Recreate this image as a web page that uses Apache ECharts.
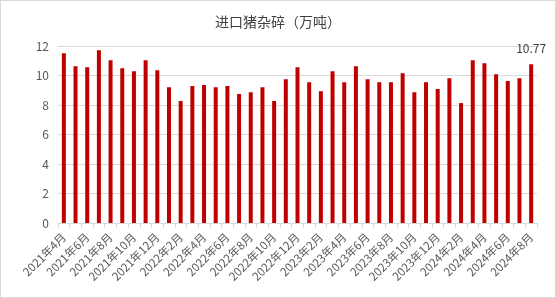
<!DOCTYPE html>
<html><head><meta charset="utf-8">
<script src="https://cdn.jsdelivr.net/npm/echarts@6/dist/echarts.min.js"></script>
<style>html,body{margin:0;padding:0;background:#fff}#c{width:556px;height:298px;box-sizing:border-box;border:1px solid #d9d9d9}</style>
</head><body><div id="c"></div>
<script>
const categories = [];
const years = [[2021,4,12],[2022,1,12],[2023,1,12],[2024,1,8]];
for (const [y,s,e] of years) for (let m=s;m<=e;m++) categories.push(y+'年'+m+'月');
const values = [11.51,10.63,10.56,11.71,11.04,10.50,10.29,11.04,10.36,9.21,8.27,9.28,9.35,9.21,9.28,8.74,8.87,9.21,8.27,9.75,10.56,9.55,8.94,10.29,9.55,10.63,9.75,9.55,9.55,10.16,8.87,9.55,9.08,9.82,8.13,11.04,10.83,10.09,9.62,9.82,10.77];
const yTicks = {min:0,max:12,interval:2};
const chart = echarts.init(document.getElementById('c'));
const txt = '#595959';
const font = '"Noto Sans CJK SC","Microsoft YaHei",sans-serif';
chart.setOption({
  animation:false,
  textStyle:{fontFamily:font},
  title:{text:'进口猪杂碎（万吨）',left:'center',top:9,textStyle:{fontSize:14,fontWeight:'normal',color:'#404040',fontFamily:font}},
  grid:{left:57,right:18,top:45,bottom:74,containLabel:false},
  xAxis:{type:'category',data:categories,
    axisLine:{lineStyle:{color:'#d9d9d9'}},
    axisTick:{show:true,alignWithLabel:false,interval:0,lineStyle:{color:'#d9d9d9'},length:5},
    axisLabel:{interval:1,rotate:45,color:txt,fontSize:11.5,margin:12,fontFamily:font}},
  yAxis:{type:'value',min:yTicks.min,max:yTicks.max,interval:yTicks.interval,
    axisLine:{show:false},axisTick:{show:false},
    splitLine:{lineStyle:{color:'#d9d9d9'}},
    axisLabel:{color:txt,fontSize:12,margin:9,fontFamily:font}},
  series:[{type:'bar',data:values.map((v,i)=>i===values.length-1?{value:v,label:{show:true,position:'top',distance:10,color:'#404040',fontSize:12,formatter:'{c}'}}:v),
    barWidth:4,itemStyle:{color:'#c00000'}}]
});
</script></body></html>
